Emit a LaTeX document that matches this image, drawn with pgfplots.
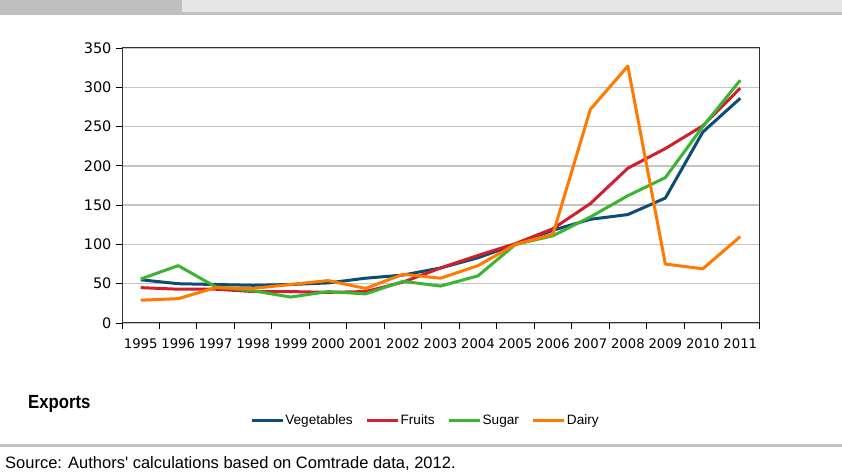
\documentclass[border=0pt]{standalone}
\usepackage{fontspec}
\setmainfont{Liberation Sans}
\newfontfamily\tickfont{DejaVu Sans}
\newfontfamily\condfont[FakeStretch=0.88]{Liberation Sans}
\usepackage{pgfplots}
\pgfplotsset{compat=1.18}
\definecolor{vegc}{HTML}{0A4F73}
\definecolor{fruc}{HTML}{D0202F}
\definecolor{sugc}{HTML}{3CB433}
\definecolor{daic}{HTML}{FF7A00}
\definecolor{bandgray}{HTML}{C0C0C0}
\definecolor{lightband}{HTML}{E6E6E6}
\definecolor{gridgray}{HTML}{C4C4C4}
\begin{document}
\begin{tikzpicture}[x=1pt,y=1pt]
\useasboundingbox (0,0) rectangle (842,473);
\fill[bandgray] (0,458) rectangle (182,473);
\fill[lightband] (182,461) rectangle (842,473);
\fill[bandgray] (0,458) rectangle (842,461);
\fill[bandgray] (0,26) rectangle (842,29);
\begin{axis}[
  at={(122pt,150pt)}, anchor=south west,
  scale only axis, width=637pt, height=275pt,
  xmin=-0.5, xmax=16.5, ymin=0, ymax=350,
  xtick={0,...,16},
  xticklabels={1995,1996,1997,1998,1999,2000,2001,2002,2003,2004,2005,2006,2007,2008,2009,2010,2011},
  minor xtick={-0.5,0.5,...,16.5},
  ytick={0,50,...,350},
  xtick pos=bottom, ytick pos=left,
  major x tick style={draw=none},
  minor x tick style={black, line width=0.9pt},
  y tick style={black, line width=0.9pt},
  tick align=outside,
  major tick length=6pt, minor tick length=6pt,
  ymajorgrids, grid style={gridgray, line width=1.3pt},
  axis line style={draw=black!80, line width=1pt},
  /pgf/number format/assume math mode=true,
  xticklabel style={font=\tickfont\fontsize{13.2}{14}\selectfont, yshift=-6pt},
  yticklabel style={font=\tickfont\fontsize{14.5}{16}\selectfont, xshift=-1pt},
  legend columns=4,
  legend style={at={(0.4757,-0.356)}, anchor=center, draw=none, fill=none,
    font=\fontsize{13.6}{15}\selectfont,
    nodes={inner xsep=1pt, text height=0.85em, text depth=0.18em},
    /tikz/every even column/.append style={column sep=12pt}},
  legend image code/.code={\draw[#1] (0pt,0pt) -- (31pt,0pt);},
  every axis plot/.append style={line width=3pt, line join=round},
]
\addplot[vegc] coordinates {(0,55) (1,50) (2,49) (3,48) (4,49) (5,51) (6,57) (7,61) (8,70) (9,83) (10,100) (11,118) (12,132) (13,138) (14,159) (15,243) (16,286)};
\addlegendentry{Vegetables}
\addplot[fruc] coordinates {(0,45) (1,43) (2,43) (3,40) (4,40) (5,39) (6,40) (7,52) (8,70) (9,86) (10,101) (11,120) (12,152) (13,197) (14,222) (15,251) (16,299)};
\addlegendentry{Fruits}
\addplot[sugc] coordinates {(0,56) (1,73) (2,46) (3,41) (4,33) (5,40) (6,37) (7,53) (8,47) (9,60) (10,100) (11,111) (12,135) (13,162) (14,185) (15,250) (16,309)};
\addlegendentry{Sugar}
\addplot[daic] coordinates {(0,29) (1,31) (2,45) (3,44) (4,49) (5,54) (6,44) (7,62) (8,57) (9,73) (10,100) (11,113) (12,272) (13,327) (14,75) (15,69) (16,110)};
\addlegendentry{Dairy}
\end{axis}
\node[anchor=west, font=\condfont\bfseries\fontsize{19}{21}\selectfont, inner sep=0pt] at (28,69) {Exports};
\node[anchor=west, font=\fontsize{16.5}{18}\selectfont, inner sep=0pt] at (5,9.5) {Source: Authors\textquotesingle{} calculations based on Comtrade data, 2012.};
\end{tikzpicture}
\end{document}
